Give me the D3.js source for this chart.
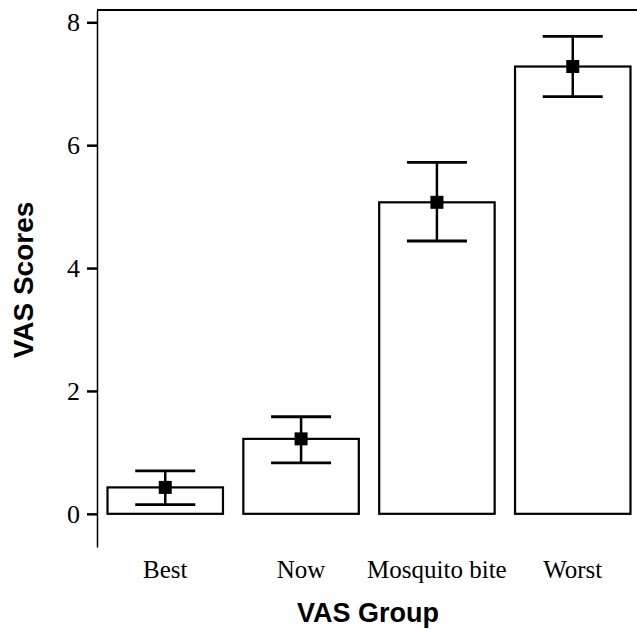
<!DOCTYPE html>
<html>
<head>
<meta charset="utf-8">
<script src="https://cdn.jsdelivr.net/npm/d3@7"></script>
<style>
  body { margin: 0; background: #fff; }
  svg { display: block; }
</style>
</head>
<body>
<div id="chart"></div>
<script>
const width = 637;
const height = 629;

const groups = ['Best', 'Now', 'Mosquito bite', 'Worst'];
const means = [0.43, 1.22, 5.07, 7.28];
const upper = [0.70, 1.58, 5.72, 7.77];
const lower = [0.15, 0.83, 4.44, 6.79];
const yTicks = [0, 2, 4, 6, 8];

const data = groups.map((g, i) => ({ group: g, mean: means[i], hi: upper[i], lo: lower[i] }));

const svg = d3.select('#chart')
  .append('svg')
  .attr('width', width)
  .attr('height', height);

const x = d3.scaleBand()
  .domain(groups)
  .range([98, 640])
  .paddingInner(0.15)
  .paddingOuter(0.07);

const y = d3.scaleLinear()
  .domain([-0.54, 8.2])
  .range([547, 10]);

// bars
svg.append('g')
  .selectAll('rect')
  .data(data)
  .join('rect')
  .attr('x', d => x(d.group))
  .attr('y', d => y(d.mean))
  .attr('width', x.bandwidth())
  .attr('height', d => y(0) - y(d.mean))
  .attr('fill', '#fff')
  .attr('stroke', '#000')
  .attr('stroke-width', 2.2);

// error bars
const capW = 30;
const err = svg.append('g')
  .selectAll('g')
  .data(data)
  .join('g')
  .attr('transform', d => `translate(${x(d.group) + x.bandwidth() / 2},0)`);

err.append('line')
  .attr('y1', d => y(d.lo))
  .attr('y2', d => y(d.hi))
  .attr('stroke', '#000')
  .attr('stroke-width', 2.5);

err.append('line')
  .attr('x1', -capW).attr('x2', capW)
  .attr('y1', d => y(d.hi)).attr('y2', d => y(d.hi))
  .attr('stroke', '#000')
  .attr('stroke-width', 2.8);

err.append('line')
  .attr('x1', -capW).attr('x2', capW)
  .attr('y1', d => y(d.lo)).attr('y2', d => y(d.lo))
  .attr('stroke', '#000')
  .attr('stroke-width', 2.8);

err.append('rect')
  .attr('x', -6.5)
  .attr('y', d => y(d.mean) - 6.5)
  .attr('width', 13)
  .attr('height', 13)
  .attr('fill', '#000');

// y axis
const yAxisG = svg.append('g')
  .attr('transform', 'translate(97,0)')
  .call(d3.axisLeft(y).tickValues(yTicks).tickSize(10).tickPadding(7).tickSizeOuter(0));

yAxisG.select('.domain').attr('stroke-width', 1.5);
yAxisG.selectAll('.tick line').attr('stroke-width', 2.5);
yAxisG.selectAll('.tick text')
  .attr('font-family', '"Liberation Serif", "Times New Roman", serif')
  .attr('font-size', 26)
  .attr('fill', '#000');

// top frame line
svg.append('line')
  .attr('x1', 97)
  .attr('x2', width)
  .attr('y1', y(8.2))
  .attr('y2', y(8.2))
  .attr('stroke', '#000')
  .attr('stroke-width', 2);

// category labels
svg.append('g')
  .selectAll('text')
  .data(groups)
  .join('text')
  .text(d => d)
  .attr('x', d => x(d) + x.bandwidth() / 2)
  .attr('y', 578)
  .attr('text-anchor', 'middle')
  .attr('font-family', '"Liberation Serif", "Times New Roman", serif')
  .attr('font-size', 25);

// axis titles
svg.append('text')
  .text('VAS Group')
  .attr('x', 368)
  .attr('y', 622)
  .attr('text-anchor', 'middle')
  .attr('font-family', '"Liberation Sans", Arial, sans-serif')
  .attr('font-weight', 'bold')
  .attr('font-size', 27);

svg.append('text')
  .text('VAS Scores')
  .attr('transform', 'translate(33,280) rotate(-90)')
  .attr('text-anchor', 'middle')
  .attr('font-family', '"Liberation Sans", Arial, sans-serif')
  .attr('font-weight', 'bold')
  .attr('font-size', 28);
</script>
</body>
</html>
